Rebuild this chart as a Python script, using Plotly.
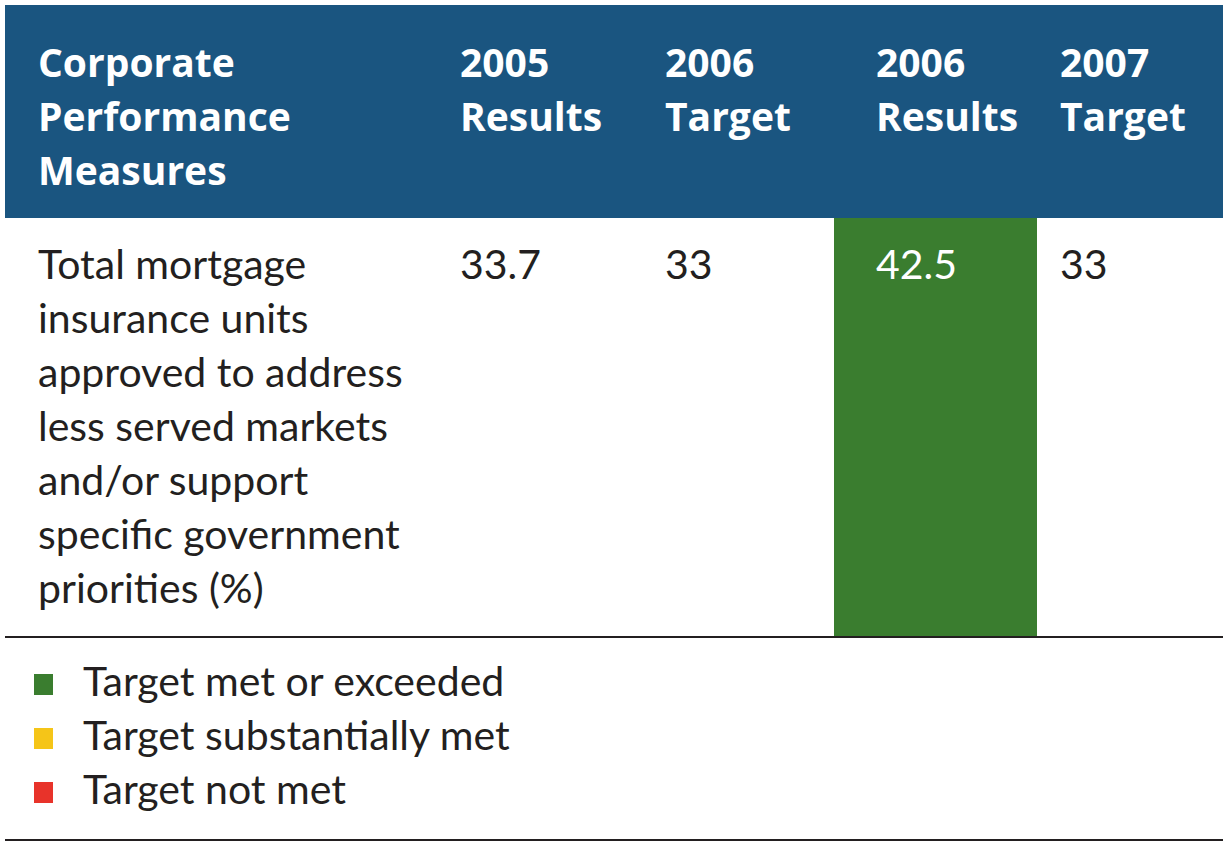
import plotly.graph_objects as go

# ---- data ----
headers = [["Corporate", "Performance", "Measures"], ["2005", "Results"], ["2006", "Target"],
           ["2006", "Results"], ["2007", "Target"]]
measure_lines = ["Total mortgage", "insurance units", "approved to address", "less served markets",
                 "and/or support", "specific government", "priorities (%)"]
values = ["33.7", "33", "42.5", "33"]
value_status = [None, None, "met", None]
legend_labels = ["Target met or exceeded", "Target substantially met", "Target not met"]
legend_keys = ["met", "substantial", "not"]

# ---- styles ----
W, H = 1227, 845
BLUE = "#1a5580"
TXT = "#231f20"
STATUS_COL = {"met": "#3a7d2f", "substantial": "#f5c518", "not": "#e8332a"}
col_x = [36, 458, 663, 874, 1058]
col_left = [5, 440, 645, 834, 1037]
col_right = [440, 645, 834, 1037, 1223]
HFONT = "Open Sans"
BFONT = "Lato"
HSIZE = 39
BSIZE = 41
LINE = 54

shapes = []
ann = []

# header band
shapes.append(dict(type="rect", x0=5, x1=1223, y0=5, y1=218, fillcolor=BLUE, line_width=0, layer="below"))
for i, h in enumerate(headers):
    for k, line in enumerate(h):
        ann.append(dict(x=col_x[i], y=61 + LINE * k, text=line, showarrow=False, xanchor="left",
                        yanchor="middle", align="left",
                        font=dict(family=HFONT, size=HSIZE, color="white", weight="bold")))

# status cells
for i, st in enumerate(value_status):
    if st:
        shapes.append(dict(type="rect", x0=col_left[i + 1], x1=col_right[i + 1], y0=218, y1=637,
                           fillcolor=STATUS_COL[st], line_width=0, layer="below"))

# body
for k, line in enumerate(measure_lines):
    ann.append(dict(x=col_x[0], y=263 + LINE * k, text=line, showarrow=False, xanchor="left",
                    yanchor="middle", align="left", font=dict(family=BFONT, size=BSIZE, color=TXT)))
for i, v in enumerate(values):
    ann.append(dict(x=col_x[i + 1], y=263, text=v, showarrow=False, xanchor="left", yanchor="middle",
                    align="left", font=dict(family=BFONT, size=BSIZE, color="white" if value_status[i] else TXT)))

# rules
shapes.append(dict(type="line", x0=5, x1=1223, y0=637, y1=637, line=dict(color=TXT, width=2)))
shapes.append(dict(type="line", x0=5, x1=1223, y0=840, y1=840, line=dict(color=TXT, width=2)))

# legend
for j, (lab, key) in enumerate(zip(legend_labels, legend_keys)):
    yc = 680 + LINE * j
    shapes.append(dict(type="rect", x0=34, x1=53, y0=yc - 6, y1=yc + 15, fillcolor=STATUS_COL[key], line_width=0))
    ann.append(dict(x=81, y=yc, text=lab, showarrow=False, xanchor="left", yanchor="middle",
                    font=dict(family=BFONT, size=BSIZE, color=TXT)))

fig = go.Figure()
fig.update_layout(
    width=W, height=H, margin=dict(l=0, r=0, t=0, b=0),
    paper_bgcolor="white", plot_bgcolor="white",
    xaxis=dict(range=[0, W], visible=False, fixedrange=True),
    yaxis=dict(range=[H, 0], visible=False, fixedrange=True),
    shapes=shapes, annotations=ann, showlegend=False,
)
fig.write_html("out.html", config={"displayModeBar": False},
               post_script="document.body.style.margin='0';document.body.style.overflow='hidden';")
